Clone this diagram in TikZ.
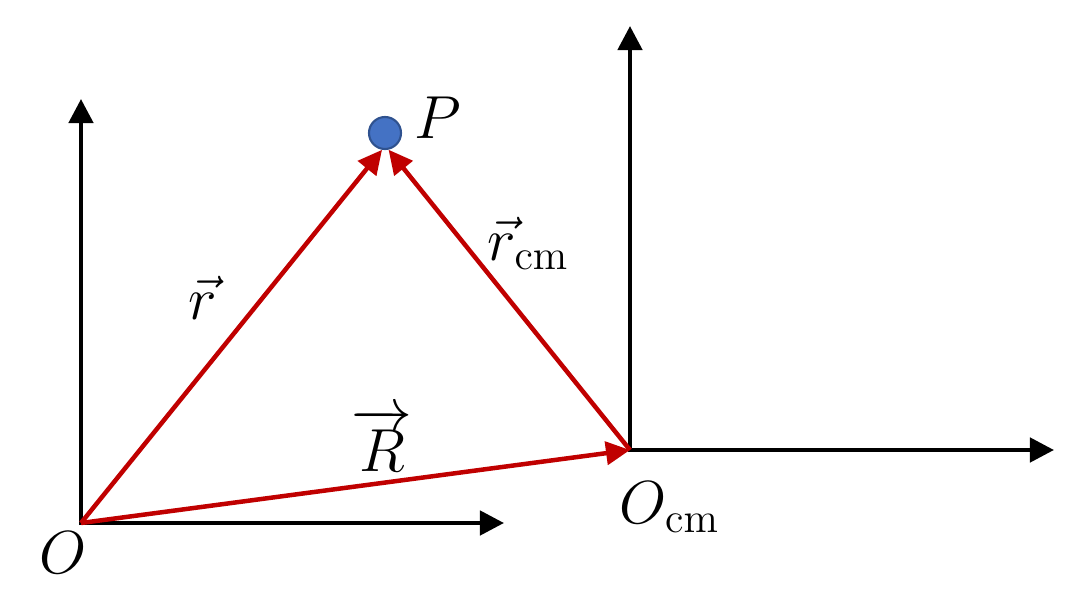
\documentclass[tikz,border=0pt]{standalone}
\usepackage{amsmath,amssymb}
\usepackage{tikz}
\usepackage{xcolor}
\usetikzlibrary{arrows.meta, positioning}

\definecolor{vecred}{RGB}{192,0,0}
\definecolor{ptblue}{RGB}{68,114,196}
\definecolor{ptedge}{RGB}{47,82,143}

\begin{document}
\begin{tikzpicture}[
    x=0.01cm, y=-0.01cm,
    axis/.style={-{Triangle[length=0.24cm, width=0.24cm]}, line width=0.045cm, black},
    vec/.style={-{Triangle[length=0.24cm, width=0.23cm]}, line width=0.045cm, vecred},
    lbl/.style={font=\fontsize{17}{20}\selectfont, inner sep=0pt},
    dot/.style={circle, fill=ptblue, draw=ptedge, line width=0.6pt, minimum size=0.32cm, inner sep=0pt}
]
\useasboundingbox (0,0) rectangle (1081,597);

% Origins and point
\coordinate (O) at (81,523);
\coordinate (Ocm) at (630,450);
\node[dot] (P) at (385,133) {};

% Axis ends
\coordinate (Oy) at (81,99);
\coordinate (Ox) at (504,523);
\coordinate (Ocmy) at (630,26);
\coordinate (Ocmx) at (1054,450);

% Axes
\draw[axis] ([yshift=-0.02cm]O) -- (Oy);
\draw[axis] ([xshift=-0.02cm]O) -- (Ox);
\draw[axis] ([yshift=-0.02cm]Ocm) -- (Ocmy);
\draw[axis] ([xshift=-0.02cm]Ocm) -- (Ocmx);

% Vectors
\draw[vec] (O) -- (P.-100);
\draw[vec] (Ocm) -- (P.-78);
\draw[vec] (O) -- (Ocm);

% Labels
\node[lbl] (Plbl) at (438,118) {$P$};
\node[lbl] (Olbl) at (63,553) {$O$};
\node[lbl, anchor=west] (Ocmlbl) at (619,507) {$O_{\mathrm{cm}}$};
\node[lbl] (rlbl) at (203,298) {$\vec{r}$};
\node[lbl, anchor=west] (rcmlbl) at (487,243) {$\vec{r}_{\mathrm{cm}}$};
\node[lbl] (Rlbl) at (382,440) {$\overrightarrow{R}$};

\end{tikzpicture}
\end{document}
